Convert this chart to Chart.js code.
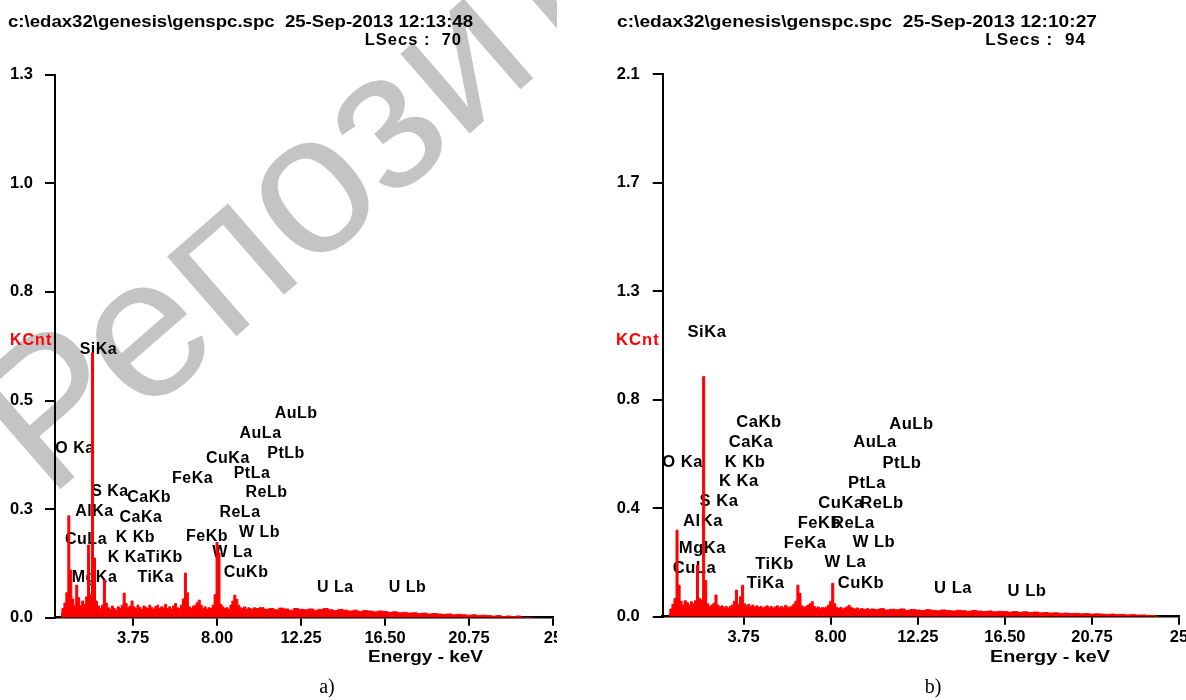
<!DOCTYPE html>
<html><head><meta charset="utf-8">
<script src="https://cdn.jsdelivr.net/npm/chart.js@4.4.1/dist/chart.umd.min.js"></script>
<style>
html,body{margin:0;padding:0;background:#fff;overflow:hidden;width:1186px;height:700px;}
.panel{position:absolute;top:0;height:700px;overflow:hidden;}
#pa{left:0;width:557px;}
#pb{left:600px;width:586px;}
canvas{display:block;}
</style></head><body>
<div class="panel" id="pa"><canvas id="ca" width="600" height="700"></canvas></div>
<div class="panel" id="pb"><canvas id="cb" width="640" height="700"></canvas></div>
<script>
// ---------- data ----------
const energyKeV = [
0.1,0.2,0.3,0.4,0.5,0.6,0.7,0.8,0.9,1.0,
1.1,1.2,1.3,1.4,1.5,1.6,1.7,1.8,1.9,2.0,
2.1,2.2,2.3,2.4,2.5,2.6,2.7,2.8,2.9,3.0,
3.1,3.2,3.3,3.4,3.5,3.6,3.7,3.8,3.9,4.0,
4.1,4.2,4.3,4.4,4.5,4.6,4.7,4.8,4.9,5.0,
5.1,5.2,5.3,5.4,5.5,5.6,5.7,5.8,5.9,6.0,
6.1,6.2,6.3,6.4,6.5,6.6,6.7,6.8,6.9,7.0,
7.1,7.2,7.3,7.4,7.5,7.6,7.7,7.8,7.9,8.0,
8.1,8.2,8.3,8.4,8.5,8.6,8.7,8.8,8.9,9.0,
9.1,9.2,9.3,9.4,9.5,9.6,9.7,9.8,9.9,10.0,
10.25,10.5,10.75,11.0,11.25,11.5,11.75,12.0,12.25,12.5,
12.75,13.0,13.25,13.5,13.75,14.0,14.25,14.5,14.75,15.0,
15.25,15.5,15.75,16.0,16.25,16.5,16.75,17.0,17.25,17.5,
17.75,18.0,18.25,18.5,18.75,19.0,19.25,19.5,19.75,20.0,
20.25,20.5,20.75,21.0,21.25,21.5,21.75,22.0,22.25,22.5,
22.75,23.0,23.25,23.5,23.75,24.0];

const countsA = [
0.010,0.022,0.035,0.060,0.244,0.114,0.045,0.030,0.078,0.048,
0.028,0.040,0.032,0.050,0.174,0.055,0.634,0.143,0.040,0.028,
0.022,0.030,0.090,0.035,0.024,0.020,0.028,0.022,0.018,0.026,
0.022,0.030,0.059,0.034,0.024,0.028,0.040,0.026,0.022,0.030,
0.024,0.020,0.028,0.025,0.022,0.030,0.024,0.021,0.027,0.030,
0.022,0.026,0.024,0.032,0.022,0.026,0.021,0.028,0.034,0.024,
0.022,0.030,0.045,0.107,0.060,0.026,0.022,0.028,0.030,0.036,
0.042,0.030,0.022,0.026,0.020,0.024,0.022,0.030,0.055,0.180,
0.155,0.032,0.026,0.022,0.024,0.020,0.030,0.040,0.054,0.044,
0.030,0.024,0.022,0.026,0.020,0.024,0.022,0.020,0.024,0.022,
0.024,0.020,0.022,0.019,0.023,0.021,0.018,0.022,0.020,0.019,
0.021,0.018,0.020,0.022,0.019,0.017,0.020,0.018,0.016,0.018,
0.015,0.017,0.016,0.014,0.016,0.015,0.013,0.014,0.012,0.013,
0.011,0.012,0.010,0.011,0.009,0.010,0.009,0.008,0.009,0.007,
0.008,0.007,0.006,0.007,0.005,0.006,0.005,0.004,0.005,0.003,
0.004,0.003,0.004,0.000,0.000,0.000];

const countsB = [
0.010,0.030,0.048,0.070,0.335,0.122,0.060,0.045,0.062,0.055,
0.045,0.058,0.050,0.062,0.200,0.070,0.065,0.929,0.140,0.050,
0.040,0.045,0.052,0.084,0.045,0.038,0.042,0.036,0.040,0.034,
0.040,0.045,0.060,0.103,0.048,0.077,0.122,0.050,0.042,0.048,
0.040,0.045,0.038,0.042,0.036,0.040,0.034,0.038,0.042,0.036,
0.040,0.034,0.038,0.042,0.036,0.040,0.035,0.044,0.038,0.036,
0.040,0.048,0.060,0.122,0.090,0.042,0.036,0.040,0.045,0.050,
0.058,0.040,0.034,0.038,0.032,0.036,0.034,0.038,0.045,0.060,
0.129,0.050,0.036,0.032,0.036,0.030,0.034,0.038,0.044,0.036,
0.032,0.030,0.034,0.028,0.032,0.030,0.028,0.032,0.027,0.030,
0.028,0.031,0.026,0.029,0.027,0.030,0.025,0.028,0.026,0.024,
0.027,0.025,0.023,0.026,0.024,0.022,0.025,0.023,0.021,0.024,
0.022,0.020,0.022,0.019,0.021,0.020,0.018,0.020,0.017,0.019,
0.016,0.018,0.015,0.016,0.014,0.015,0.013,0.014,0.012,0.013,
0.011,0.012,0.010,0.011,0.010,0.009,0.010,0.008,0.009,0.007,
0.008,0.006,0.007,0.005,0.005,0.000];

const xTicks = [3.75, 8, 12.25, 16.5, 20.75, 25];
const xTickLabels = ['3.75', '8.00', '12.25', '16.50', '20.75', '25'];
const yTicksA = [0, 0.26, 0.52, 0.78, 1.04, 1.3];
const yTickLabelsA = ['0.0', '0.3', '0.5', '0.8', '1.0', '1.3'];
const yTicksB = [0, 0.42, 0.84, 1.26, 1.68, 2.1];
const yTickLabelsB = ['0.0', '0.4', '0.8', '1.3', '1.7', '2.1'];

const lineNames = ['O Ka','MgKa','AlKa','SiKa','S Ka','K Ka','K Kb','CaKa','CaKb','TiKa','TiKb','FeKa','FeKb',
  'CuLa','CuKa','CuKb','W La','W Lb','ReLa','ReLb','PtLa','PtLb','AuLa','AuLb','U La','U Lb'];
const lineKeVA = [0.81,1.80,1.80,2.00,2.58,3.44,3.87,4.15,4.56,4.89,5.32,6.76,7.49,
  1.37,8.55,9.47,8.78,10.15,9.16,10.50,9.77,11.49,10.20,12.00,13.99,17.64];
const lineKCntA = [0.404,0.097,0.253,0.641,0.301,0.145,0.191,0.239,0.287,0.097,0.145,0.334,0.193,
  0.188,0.382,0.107,0.155,0.203,0.251,0.299,0.346,0.394,0.440,0.488,0.071,0.071];
const lineKeVB = [0.77,1.74,1.77,1.96,2.55,3.52,3.82,4.11,4.50,4.82,5.26,6.75,7.45,
  1.35,8.50,9.48,8.72,10.11,9.11,10.50,9.77,11.48,10.16,11.94,13.97,17.58];
const lineKCntB = [0.595,0.262,0.367,1.098,0.444,0.521,0.595,0.672,0.750,0.127,0.200,0.281,0.359,
  0.185,0.436,0.130,0.208,0.285,0.359,0.436,0.514,0.591,0.672,0.745,0.108,0.099];

const titleA = 'c:\\edax32\\genesis\\genspc.spc  25-Sep-2013 12:13:48';
const titleB = 'c:\\edax32\\genesis\\genspc.spc  25-Sep-2013 12:10:27';
const lsecsA = 'LSecs :  70';
const lsecsB = 'LSecs :  94';
const yAxisTitle = 'KCnt';
const xAxisTitle = 'Energy - keV';
const watermark = 'Репозиторий БНТУ';

// ---------- drawing ----------
const SANS = '"Liberation Sans", Arial, sans-serif';
function drawText(ctx, txt, x, y, o) {
  ctx.save();
  ctx.font = o.font;
  ctx.fillStyle = o.color || '#000';
  ctx.letterSpacing = o.spacing || '0px';
  ctx.textBaseline = o.baseline || 'alphabetic';
  ctx.textAlign = o.align || 'left';
  const w = ctx.measureText(txt).width;
  const k = o.width ? o.width / w : (o.sx || 1);
  ctx.translate(x, y);
  ctx.scale(k, 1);
  ctx.fillText(txt, 0, 0);
  ctx.restore();
}

function makeChart(id, p) {
  const points = energyKeV.map((e, i) => ({x: e, y: p.counts[i]}));
  const decor = {
    id: 'decor',
    beforeDraw(chart) {
      if (!p.watermark) return;
      const ctx = chart.ctx;
      ctx.save();
      ctx.translate(p.wm.x, p.wm.y);
      ctx.rotate(p.wm.angle * Math.PI / 180);
      ctx.font = p.wm.size + 'px ' + SANS;
      ctx.fillStyle = '#c4c4c4';
      ctx.fillText(p.watermark, 0, 0);
      ctx.restore();
    },
    beforeDatasetsDraw(chart) {
      const ctx = chart.ctx, xs = chart.scales.x, ys = chart.scales.y;
      lineNames.forEach((n, i) => {
        drawText(ctx, n, xs.getPixelForValue(p.lineKeV[i]), ys.getPixelForValue(p.lineKCnt[i]),
          {font: 'bold 16px ' + SANS, spacing: '0.5px', align: 'center', baseline: 'middle', sx: p.sx});
      });
    },
    afterDraw(chart) {
      const ctx = chart.ctx;
      drawText(ctx, p.title, p.titleX, 26.5, {font: 'bold 16.5px ' + SANS, width: p.titleW});
      drawText(ctx, p.lsecs, p.lsecsX, 45, {font: 'bold 16.5px ' + SANS, spacing: '1px', align: 'right', sx: p.sx});
      drawText(ctx, yAxisTitle, p.kcntX, 341, {font: 'bold 16px ' + SANS, spacing: '1px', baseline: 'middle', color: '#ff0000', sx: p.sx});
      drawText(ctx, xAxisTitle, p.energyX, 657, {font: 'bold 16.5px ' + SANS, align: 'center', baseline: 'middle', width: p.energyW});
      drawText(ctx, p.caption, p.captionX, 688, {font: '20px "Liberation Serif", "Times New Roman", serif', align: 'center', baseline: 'middle'});
    }
  };
  const tickFont = {family: SANS, weight: 'bold', size: 16.5};
  return new Chart(document.getElementById(id), {
    type: 'line',
    data: {datasets: [{
      data: points, stepped: 'middle', fill: 'origin',
      borderColor: '#ff0000', backgroundColor: '#ff0000', borderWidth: 1,
      pointRadius: 0, pointHoverRadius: 0
    }]},
    options: {
      responsive: false, animation: false, devicePixelRatio: 1,
      events: [],
      layout: {padding: {top: p.top, right: p.padRight, left: 0, bottom: 0}},
      plugins: {legend: {display: false}, tooltip: {enabled: false}, title: {display: false}},
      scales: {
        x: {
          type: 'linear', min: -0.2, max: 25,
          afterBuildTicks: s => { s.ticks = xTicks.map(v => ({value: v})); },
          afterFit: s => { s.height = 700 - p.bottom; s.paddingLeft = 0; s.paddingRight = 0; },
          ticks: {callback: (v, i) => xTickLabels[i], font: tickFont, color: '#000', padding: 3,
                  maxRotation: 0, autoSkip: false},
          grid: {drawOnChartArea: false, drawTicks: true, tickLength: 8, color: '#000', lineWidth: 2},
          border: {display: true, color: '#000', width: 2.5}
        },
        y: {
          type: 'linear', min: 0, max: p.yMax,
          afterBuildTicks: s => { s.ticks = p.yTicks.map(v => ({value: v})); },
          afterFit: s => { s.width = p.left; s.paddingTop = 0; s.paddingBottom = 0; },
          ticks: {callback: (v, i) => p.yLabels[i], font: tickFont, color: '#000', padding: p.yPad, autoSkip: false},
          grid: {drawOnChartArea: false, drawTicks: true, tickLength: 10, color: '#000', lineWidth: 2},
          border: {display: true, color: '#000', width: 2}
        }
      }
    },
    plugins: [decor]
  });
}

makeChart('ca', {
  counts: countsA, yMax: 1.3, yTicks: yTicksA, yLabels: yTickLabelsA,
  lineKeV: lineKeVA, lineKCnt: lineKCntA,
  left: 55, top: 74.7, bottom: 617.7, padRight: 600 - 553, yPad: 12, sx: 1,
  title: titleA, titleX: 8, titleW: 465, lsecs: lsecsA, lsecsX: 462,
  kcntX: 10, energyX: 425.5, energyW: 115, caption: 'a)', captionX: 327,
  watermark: watermark, wm: {x: 48, y: 500, angle: -41, size: 200}
});
makeChart('cb', {
  counts: countsB, yMax: 2.1, yTicks: yTicksB, yLabels: yTickLabelsB,
  lineKeV: lineKeVB, lineKCnt: lineKCntB,
  left: 62.7, top: 74, bottom: 616.7, padRight: 640 - 579, yPad: 13, sx: 1.037,
  title: titleB, titleX: 17, titleW: 480, lsecs: lsecsB, lsecsX: 486,
  kcntX: 16, energyX: 450, energyW: 120, caption: 'b)', captionX: 333,
  watermark: null
});
</script>
</body></html>
